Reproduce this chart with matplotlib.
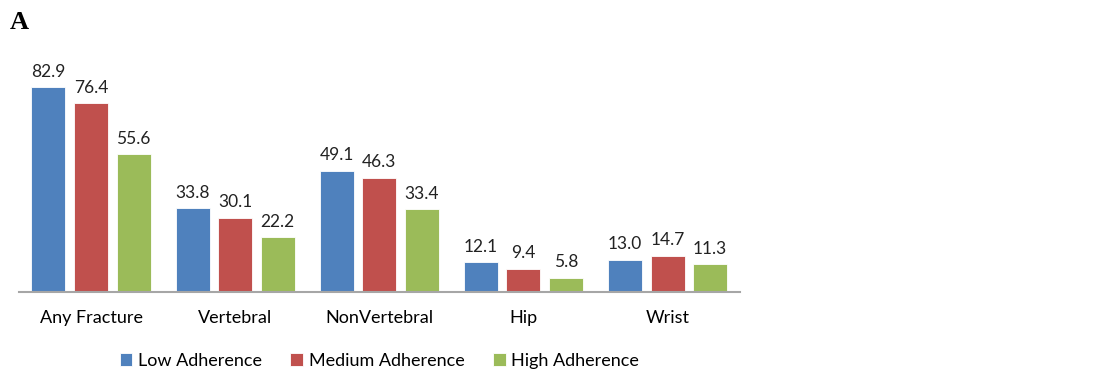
import matplotlib.pyplot as plt
import numpy as np

categories = ['Any Fracture', 'Vertebral', 'NonVertebral', 'Hip', 'Wrist']
series_names = ['Low Adherence', 'Medium Adherence', 'High Adherence']
low = [82.9, 33.8, 49.1, 12.1, 13.0]
medium = [76.4, 30.1, 46.3, 9.4, 14.7]
high = [55.6, 22.2, 33.4, 5.8, 11.3]
colors = ['#4F81BD', '#C0504D', '#9BBB59']

plt.rcParams['font.family'] = ['Lato', 'DejaVu Sans']

fig = plt.figure(figsize=(11.14, 3.73), dpi=100)
ax = fig.add_axes([0.017, 0.217, 0.647, 0.597])

x = np.arange(len(categories))
width = 0.236
pitch = 0.295
for k, (vals, name) in enumerate(zip([low, medium, high], series_names)):
    pos = x + (k - 1) * pitch
    ax.bar(pos, vals, width, color=colors[k], label=name, edgecolor='white', linewidth=0.6)
    for p, v in zip(pos, vals):
        ax.text(p, v + 3.0, '%.1f' % v, ha='center', va='bottom', fontsize=12.5, color='#222222')

ax.set_xlim(-0.5, len(categories) - 0.5)
ax.set_ylim(0, 90)
ax.set_xticks(x)
ax.set_xticklabels(categories, fontsize=13)
ax.tick_params(axis='x', length=0, pad=13)
ax.set_yticks([])
for s in ['top', 'right', 'left']:
    ax.spines[s].set_visible(False)
ax.spines['bottom'].set_color('#A6A6A6')
ax.spines['bottom'].set_linewidth(1.5)

ax.legend(loc='upper center', bbox_to_anchor=(0.5, -0.2), ncol=3, frameon=False,
          fontsize=13, handlelength=0.7, handleheight=0.7, handletextpad=0.3,
          columnspacing=1.6)

fig.text(0.009, 0.94, 'A', family='Liberation Serif', fontweight='bold', fontsize=19,
         ha='left', va='center')

fig.savefig('out.png', dpi=100)
